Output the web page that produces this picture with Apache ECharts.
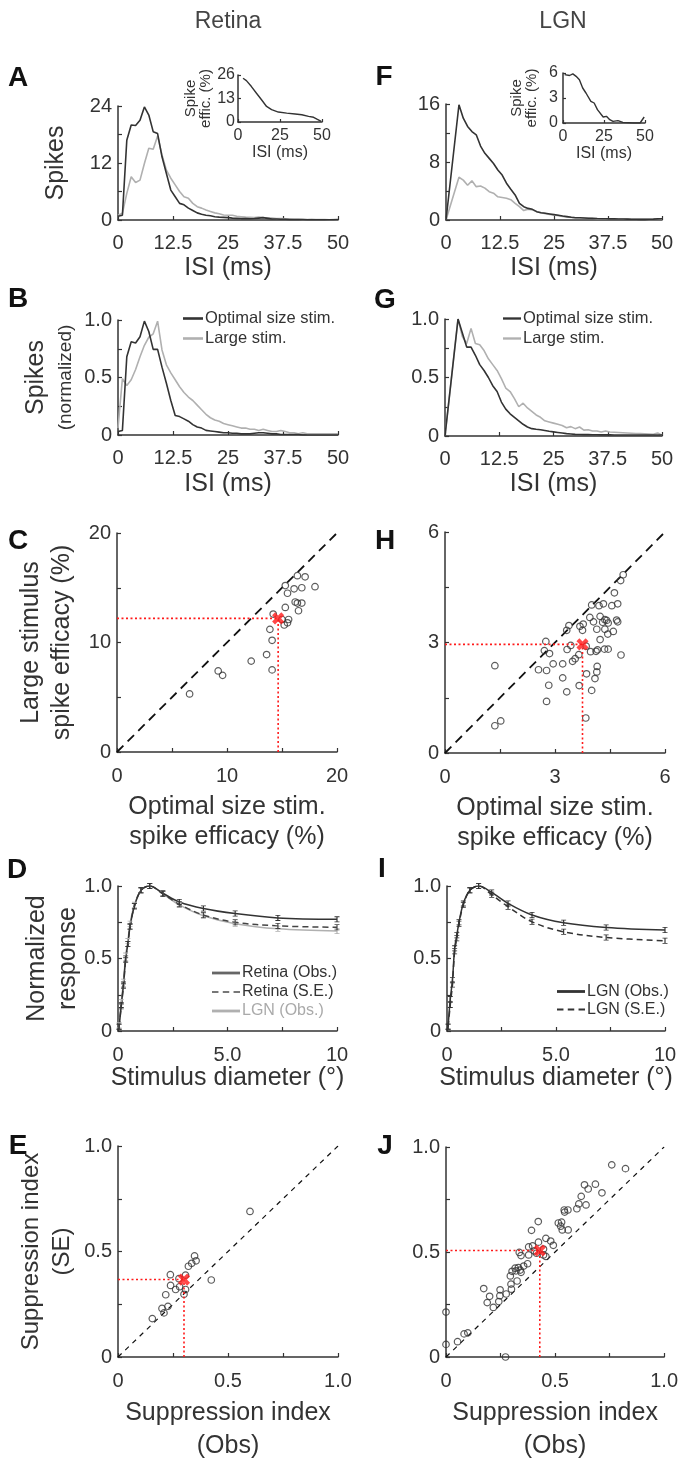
<!DOCTYPE html>
<html><head><meta charset="utf-8">
<script src="https://cdn.jsdelivr.net/npm/echarts@6/dist/echarts.min.js"></script>
<style>html,body{margin:0;padding:0;background:#fff}#c{width:681px;height:1460px}</style>
</head><body><div id="c"></div>
<script>
// ---------------- DATA ----------------
const ISI_X = [0,1,2,3,4,5,6,7,8,9,10,11,12,13,14,15,16,17,18,19,20,21,22,23,24,25,26,27,28,29,30,31,32,33,34,35,36,37,38,39,40,41,42,43,44,45,46,47,48,49,50];
const FG_X  = [0,3,4,5,6,7,8,9,10,11,12,13,14,15,16,17,18,19,20,21,22,23,24,25,26,27,28,29,30,31,32,33,34,35,36,37,38,39,40,41,42,43,44,45,46,47,48,49,50];

const A_OPT   = [0.8,1.0,16.8,20.0,19.9,21.0,23.8,22.1,18.6,18.2,13.3,9.8,6.3,4.9,3.5,3.2,2.5,2.0,1.5,1.2,1.0,0.9,0.7,0.6,0.55,0.5,0.4,0.35,0.3,0.3,0.25,0.3,0.4,0.5,0.35,0.2,0.2,0.15,0.15,0.1,0.1,0.1,0.1,0.05,0.05,0.05,0.05,0.05,0.05,0.05,0.1];
const A_LARGE = [1.0,1.4,5.6,9.1,7.9,8.4,11.9,15.1,14.9,17.7,13.7,10.5,8.8,7.4,6.0,4.9,4.6,3.5,2.8,2.5,2.1,1.8,1.5,1.3,1.05,1.0,1.0,0.8,0.7,0.6,0.56,0.5,0.6,0.5,0.45,0.4,0.3,0.3,0.25,0.2,0.15,0.15,0.1,0.1,0.15,0.1,0.1,0.1,0.05,0.1,0.05];
const A_INSET_X = [3,5,6,8,11,14,17,20,24,29,34,38,42,45,47,48,49.5];
const A_INSET_Y = [24.2,22.9,22.5,19.6,15.9,12.3,8.6,6.8,5.5,4.9,4.4,4.0,3.1,2.6,1.6,2.7,0.4];

const B_OPT   = [0.03,0.04,0.68,0.81,0.80,0.855,0.99,0.90,0.745,0.745,0.59,0.45,0.30,0.17,0.16,0.14,0.12,0.09,0.07,0.06,0.04,0.035,0.03,0.025,0.02,0.02,0.015,0.015,0.01,0.01,0.01,0.015,0.02,0.02,0.015,0.01,0.01,0.005,0.005,0.005,0.005,0.005,0,0,0,0,0,0,0,0,0];
const B_LARGE = [0.06,0.49,0.43,0.48,0.57,0.68,0.78,0.85,0.88,0.99,0.74,0.61,0.54,0.48,0.42,0.37,0.33,0.3,0.26,0.22,0.18,0.15,0.13,0.12,0.1,0.09,0.08,0.07,0.06,0.06,0.05,0.05,0.04,0.05,0.04,0.03,0.03,0.04,0.03,0.02,0.02,0.01,0.02,0.01,0.01,0.01,0.01,0.01,0.01,0.01,0.01];

const F_OPT   = [0,15.9,14.05,12.9,12.2,11.75,10.2,9.2,8.5,7.8,6.9,6.2,5.07,4.24,3.46,2.3,1.84,1.6,1.47,1.15,1.0,0.92,0.83,0.74,0.65,0.55,0.46,0.37,0.32,0.3,0.28,0.25,0.23,0.2,0.18,0.17,0.16,0.15,0.14,0.13,0.12,0.11,0.1,0.09,0.09,0.1,0.12,0.15,0.18];
const F_LARGE = [0,5.9,5.5,4.8,5.4,4.6,4.7,4.4,3.9,3.7,3.2,3.1,3.0,2.8,2.3,1.84,1.3,1.5,1.4,1.15,1.0,0.88,0.78,0.7,0.6,0.5,0.41,0.36,0.32,0.3,0.28,0.24,0.2,0.18,0.16,0.15,0.14,0.14,0.14,0.13,0.12,0.11,0.1,0.1,0.1,0.09,0.09,0.08,0.08];
const F_INSET_X = [1,4,6,8,10,12,14,17,19,21,24.5,26.5,28.5,30.5,33.5,36.5,43,47,49.5];
const F_INSET_Y = [5.8,5.7,5.9,5.6,5.2,4.2,3.6,2.6,2.4,1.6,0.72,0.8,0.4,0.2,0.28,0.08,0,0,0.72];

const G_OPT   = [0,1.0,0.88,0.76,0.76,0.69,0.61,0.56,0.5,0.43,0.38,0.29,0.23,0.19,0.16,0.13,0.1,0.077,0.063,0.058,0.054,0.047,0.04,0.035,0.03,0.025,0.02,0.017,0.014,0.013,0.012,0.012,0.011,0.011,0.01,0.01,0.01,0.009,0.009,0.009,0.008,0.008,0.008,0.008,0.008,0.008,0.008,0.008,0.008];
const G_LARGE = [0,1.0,0.85,0.79,0.92,0.79,0.78,0.73,0.66,0.61,0.56,0.49,0.41,0.38,0.32,0.25,0.28,0.24,0.21,0.18,0.16,0.13,0.12,0.11,0.1,0.09,0.07,0.08,0.063,0.077,0.05,0.054,0.043,0.043,0.034,0.043,0.034,0.032,0.03,0.028,0.026,0.024,0.022,0.02,0.018,0.016,0.014,0.026,0.006];

const C_OPT   = [6.6,9.2,9.6,12.2,13.6,14.1,14.1,13.9,14.2,15.0,15.2,15.6,15.5,15.3,15.5,15.3,16.1,16.8,16.4,17.1,18.0,16.2,16.4,16.8,16.5];
const C_LARGE = [5.3,7.4,7.0,8.3,8.9,7.5,10.2,11.2,12.6,12.1,11.6,12.1,11.8,13.2,14.5,15.2,14.9,15.0,16.1,16.0,15.1,13.7,13.6,13.6,12.9];
const C_MEAN  = [14.65, 12.2];

const H_OPT   = [1.36,1.36,1.52,2.75,2.71,2.85,2.55,2.77,2.95,3.21,2.77,2.83,3.21,3.32,3.33,3.43,3.32,3.38,3.48,3.55,3.65,3.66,3.68,3.77,3.75,3.85,3.86,3.84,3.97,4.0,3.95,4.05,4.0,4.14,4.12,4.16,4.09,4.14,4.15,4.23,4.23,4.2,4.32,4.3,4.36,4.41,4.45,4.36,4.44,4.35,4.45,4.55,4.59,4.62,4.68,4.71,4.71,4.8,4.79,4.86];
const H_LARGE = [2.37,0.74,0.87,3.03,2.78,2.70,2.26,2.24,2.42,2.42,1.40,1.84,2.04,1.66,2.81,2.92,3.33,3.46,2.49,2.56,2.67,1.83,3.44,3.50,3.33,2.90,2.15,0.95,2.75,1.70,3.68,3.56,4.02,3.36,2.76,2.80,2.02,2.20,2.35,3.08,3.71,4.0,4.05,3.55,3.62,3.60,3.53,3.36,3.23,2.82,2.82,4.0,3.30,4.35,3.61,4.05,3.56,2.66,4.68,4.84];
const H_MEAN  = [3.75, 2.95];

const DIAM      = [0.05,0.15,0.25,0.35,0.45,0.55,0.75,1.05,1.45,2.05,2.8,3.9,5.35,7.3,10];
const D_RET_OBS = [0.03,0.18,0.32,0.50,0.60,0.72,0.86,0.97,1.0,0.95,0.89,0.845,0.81,0.78,0.77];
const D_RET_SE  = [0.03,0.17,0.31,0.49,0.60,0.72,0.86,0.97,1.0,0.945,0.875,0.80,0.75,0.725,0.715];
const D_LGN_OBS = [0.04,0.20,0.34,0.52,0.62,0.74,0.87,0.97,1.0,0.945,0.87,0.795,0.74,0.705,0.69];
const I_LGN_OBS = [0.03,0.22,0.35,0.57,0.66,0.75,0.88,0.97,1.0,0.956,0.88,0.80,0.746,0.714,0.696];
const I_LGN_SE  = [0.03,0.18,0.32,0.55,0.64,0.74,0.87,0.97,1.0,0.94,0.857,0.753,0.684,0.645,0.622];

const E_OBS  = [0.60,0.424,0.348,0.355,0.335,0.32,0.238,0.307,0.277,0.239,0.262,0.28,0.307,0.30,0.217,0.227,0.2,0.209,0.156];
const E_SE   = [0.69,0.365,0.479,0.456,0.444,0.43,0.39,0.388,0.371,0.339,0.32,0.333,0.32,0.297,0.295,0.24,0.23,0.209,0.182];
const E_MEAN = [0.30, 0.367];

const J_OBS  = [0.76,0.823,0.635,0.685,0.652,0.715,0.62,0.609,0.642,0.60,0.542,0.559,0.544,0.423,0.515,0.53,0.526,0.533,0.56,0.392,0.458,0.48,0.492,0.424,0.379,0.397,0.405,0.415,0.447,0.447,0.458,0.336,0.344,0.379,0.374,0.356,0.332,0.34,0.321,0.317,0.344,0.303,0.295,0.326,0.298,0.3,0.248,0.173,0.2,0.189,0.217,0.242,0.247,0.276,0.0,0.0,0.053,0.083,0.1,0.273];
const J_SE   = [0.915,0.897,0.82,0.823,0.80,0.782,0.765,0.729,0.724,0.706,0.70,0.70,0.69,0.645,0.638,0.642,0.623,0.605,0.605,0.603,0.565,0.552,0.532,0.547,0.524,0.529,0.505,0.494,0.514,0.486,0.479,0.498,0.483,0.486,0.444,0.433,0.426,0.414,0.41,0.423,0.403,0.408,0.386,0.362,0.347,0.323,0.32,0.326,0.289,0.259,0.236,0.264,0.292,0.3,0.214,0.06,0.073,0.11,0.115,0.0];
const J_MEAN = [0.43, 0.507];

const LEGEND_LABELS = {
  B_opt:'Optimal size stim.', B_large:'Large stim.',
  G_opt:'Optimal size stim.', G_large:'Large stim.',
  D_ro:'Retina (Obs.)', D_rs:'Retina (S.E.)', D_lo:'LGN (Obs.)',
  I_lo:'LGN (Obs.)', I_ls:'LGN (S.E.)'
};

// ---------------- STYLE / HELPERS ----------------
const FONT = '"Liberation Sans", Arial, Helvetica, sans-serif';
const INK = '#333';
const GRAY = '#b0b0b0';
const RED = '#ff1a1a';

function merge(a, b) {
  const out = Array.isArray(a) ? a.slice() : Object.assign({}, a);
  for (const k in b) {
    const v = b[k];
    if (v && typeof v === 'object' && !Array.isArray(v) && typeof out[k] === 'object' && out[k] && !Array.isArray(out[k])) out[k] = merge(out[k], v);
    else out[k] = v;
  }
  return out;
}
function baseAxis(small) {
  return {
    type: 'value',
    axisLine: { show: true, onZero: false, lineStyle: { color: INK, width: 1.5 } },
    axisTick: { show: true, inside: true, length: small ? 3 : 4, lineStyle: { color: INK, width: 1.2 } },
    axisLabel: { color: INK, fontSize: small ? 16 : 20, fontFamily: FONT, margin: small ? 5 : 13 },
    splitLine: { show: false },
    nameLocation: 'middle',
    nameTextStyle: { color: INK, fontSize: small ? 16 : 25, fontFamily: FONT }
  };
}
const grids = [], xAxes = [], yAxes = [], series = [];
function panel(g, xo, yo, small) {
  const i = grids.length;
  grids.push({ left: g[0], top: g[1], width: g[2], height: g[3] });
  xAxes.push(merge(merge(baseAxis(small), { gridIndex: i }), xo));
  yAxes.push(merge(merge(baseAxis(small), { gridIndex: i }), yo));
  return i;
}
function pairs(xs, ys) { return xs.map((x, k) => [x, ys[k]]); }
function line(i, name, xs, ys, color, extra) {
  series.push(merge({
    type: 'line', name: name, xAxisIndex: i, yAxisIndex: i, data: pairs(xs, ys),
    showSymbol: false, symbol: 'none', lineStyle: { color: color, width: 1.6 }, itemStyle: { color: color },
    animation: false, silent: true, z: 3
  }, extra || {}));
}
function scatter(i, xs, ys) {
  series.push({
    type: 'scatter', xAxisIndex: i, yAxisIndex: i, data: pairs(xs, ys),
    symbol: 'circle', symbolSize: 6.5,
    itemStyle: { color: 'rgba(0,0,0,0)', borderColor: INK, borderWidth: 1.2 },
    animation: false, silent: true, z: 4
  });
}
function diagonal(i, maxv, dash, w) {
  series.push({
    type: 'line', xAxisIndex: i, yAxisIndex: i, data: [[0, 0], [maxv, maxv]],
    symbol: 'none', lineStyle: { color: '#111', width: w, type: dash }, animation: false, silent: true, z: 2
  });
}
function meanMarker(i, m) {
  series.push({
    type: 'line', xAxisIndex: i, yAxisIndex: i, data: [[0, m[1]], [m[0], m[1]]],
    symbol: 'none', lineStyle: { color: RED, width: 1.6, type: [2, 2.5] }, animation: false, silent: true, z: 5
  });
  series.push({
    type: 'line', xAxisIndex: i, yAxisIndex: i, data: [[m[0], 0], [m[0], m[1]]],
    symbol: 'none', lineStyle: { color: RED, width: 1.6, type: [2, 2.5] }, animation: false, silent: true, z: 5
  });
  series.push({
    type: 'scatter', xAxisIndex: i, yAxisIndex: i, data: [m],
    symbol: 'path://M3.4,0H6.6V3.4H10V6.6H6.6V10H3.4V6.6H0V3.4H3.4Z', symbolRotate: 45, symbolSize: 13,
    itemStyle: { color: RED }, animation: false, silent: true, z: 6
  });
}
const ERRBAR = 'path://M0,0H6V1.3H3.7V8.7H6V10H0V8.7H2.3V1.3H0Z';
function tuning(i, name, ys, color, dash) {
  line(i, name, DIAM, ys, color, {
    showSymbol: true, symbol: ERRBAR, symbolSize: [5, 6], symbolKeepAspect: false, smooth: 0.35,
    lineStyle: { width: 1.5, type: dash ? [6, 4] : 'solid' }
  });
}
const fmtHalf = v => (v === 0 ? '0' : (Math.abs(v - 0.5) < 1e-9 || Math.abs(v - 1) < 1e-9) ? v.toFixed(1) : '');
const rich2 = (fs1, fs2, lh1, lh2) => ({ a: { fontSize: fs1, lineHeight: lh1, fontFamily: FONT, color: INK }, b: { fontSize: fs2, lineHeight: lh2, fontFamily: FONT, color: INK } });

// ---------------- PANELS ----------------
const isiX = (gap) => ({ min: 0, max: 50, interval: 12.5, name: 'ISI (ms)', nameGap: gap });

// A
const pA = panel([118, 106, 220, 114], isiX(36),
  { min: 0, max: 24, interval: 6, axisLabel: { margin: 6, formatter: v => (v % 12 === 0 ? String(v) : '') }, name: 'Spikes', nameGap: 49 });
line(pA, 'A_large', ISI_X, A_LARGE, GRAY);
line(pA, 'A_opt', ISI_X, A_OPT, INK);
// A inset
const pAi = panel([238, 75, 84, 47],
  { min: 0, max: 50, interval: 25, name: 'ISI (ms)', nameGap: 20, axisLabel: { margin: 6 } },
  { min: 0, max: 26, interval: 13, axisLabel: { margin: 3 }, name: '{a|Spike}\n{a|effic. (%)}', nameGap: 21,
    nameTextStyle: { rich: rich2(15, 15, 15, 15) } }, true);
line(pAi, 'Ai', A_INSET_X, A_INSET_Y, INK, { lineStyle: { width: 1.4 } });

// F
const pF = panel([446, 104, 216, 116], isiX(36),
  { min: 0, max: 16, interval: 4, axisLabel: { margin: 6, formatter: v => (v % 8 === 0 ? String(v) : '') } });
line(pF, 'F_large', FG_X, F_LARGE, GRAY);
line(pF, 'F_opt', FG_X, F_OPT, INK);
const pFi = panel([563, 73, 82, 50],
  { min: 0, max: 50, interval: 25, name: 'ISI (ms)', nameGap: 20, axisLabel: { margin: 6 } },
  { min: 0, max: 6, interval: 3, axisLabel: { margin: 5 }, name: '{a|Spike}\n{a|effic. (%)}', nameGap: 24,
    nameTextStyle: { rich: rich2(15, 15, 15, 15) } }, true);
line(pFi, 'Fi', F_INSET_X, F_INSET_Y, INK, { lineStyle: { width: 1.4 } });

// B
const pB = panel([118, 320, 220, 115], isiX(37),
  { min: 0, max: 1, interval: 0.25, axisLabel: { margin: 6, formatter: fmtHalf },
    name: '{a|Spikes}\n{b|(normalized)}', nameGap: 41, nameTextStyle: { rich: rich2(25, 19, 38, 22) } });
line(pB, 'B_large', ISI_X, B_LARGE, GRAY);
line(pB, 'B_opt', ISI_X, B_OPT, INK);

// G
const pG = panel([445, 319, 217, 117], isiX(36),
  { min: 0, max: 1, interval: 0.25, axisLabel: { margin: 6, formatter: fmtHalf } });
line(pG, 'G_large', FG_X, G_LARGE, GRAY);
line(pG, 'G_opt', FG_X, G_OPT, INK);

// C
const scX = (max, iv, lab) => ({ min: 0, max: max, interval: iv,
  axisLabel: { margin: 14, formatter: v => (Math.abs(v % lab) < 1e-9 ? String(v) : '') },
  name: '{a|Optimal size stim.}\n{a|spike efficacy (%)}', nameGap: 40,
  nameTextStyle: { rich: rich2(25, 25, 30, 30) } });
const pC = panel([117, 533, 220, 219], scX(20, 5, 10),
  { min: 0, max: 20, interval: 5, axisLabel: { margin: 6, formatter: v => (v % 10 === 0 ? String(v) : '') },
    name: '{a|Large stimulus}\n{a|spike efficacy (%)}', nameGap: 39, nameTextStyle: { rich: rich2(25, 25, 31, 31) } });
diagonal(pC, 20, [9, 6], 1.8);
scatter(pC, C_OPT, C_LARGE);
meanMarker(pC, C_MEAN);

// H
const pH = panel([445, 532, 220, 221], scX(6, 1.5, 3),
  { min: 0, max: 6, interval: 1.5, axisLabel: { margin: 6, formatter: v => (Math.abs(v % 3) < 1e-9 ? String(v) : '') } });
diagonal(pH, 6, [9, 6], 1.8);
scatter(pH, H_OPT, H_LARGE);
meanMarker(pH, H_MEAN);

// D
const diamX = { min: 0, max: 10, interval: 2.5,
  axisLabel: { margin: 14, formatter: v => (v === 0 ? '0' : v === 5 ? '5.0' : v === 10 ? '10' : '') },
  name: 'Stimulus diameter (°)', nameGap: 32 };
const pD = panel([118, 886, 219, 145], diamX,
  { min: 0, max: 1, interval: 0.25, axisLabel: { margin: 6, formatter: fmtHalf },
    name: '{a|Normalized}\n{a|response}', nameGap: 34, nameTextStyle: { rich: rich2(25, 25, 31, 31) } });
tuning(pD, 'D_lo', D_LGN_OBS, GRAY, false);
tuning(pD, 'D_rs', D_RET_SE, '#444', true);
tuning(pD, 'D_ro', D_RET_OBS, INK, false);

// I
const pI = panel([447, 886, 218, 145], diamX,
  { min: 0, max: 1, interval: 0.25, axisLabel: { margin: 6, formatter: fmtHalf } });
tuning(pI, 'I_ls', I_LGN_SE, INK, true);
tuning(pI, 'I_lo', I_LGN_OBS, INK, false);

// E
const siX = { min: 0, max: 1, interval: 0.25, axisLabel: { margin: 14, formatter: fmtHalf },
  name: '{a|Suppression index}\n{a|(Obs)}', nameGap: 40, nameTextStyle: { rich: rich2(25, 25, 33, 33) } };
const pE = panel([118, 1146, 220, 220], siX,
  { min: 0, max: 1, interval: 0.25, axisLabel: { margin: 6, formatter: fmtHalf },
    name: '{a|Suppression index}\n{a|(SE)}', nameGap: 40, nameTextStyle: { rich: rich2(24, 24, 31, 31) } });
diagonal(pE, 1, [5, 5], 1.2);
scatter(pE, E_OBS, E_SE);
meanMarker(pE, E_MEAN);

// J
const pJ = panel([446, 1147, 220, 220], siX,
  { min: 0, max: 1, interval: 0.25, axisLabel: { margin: 6, formatter: fmtHalf } });
diagonal(pJ, 1, [5, 5], 1.2);
scatter(pJ, J_OBS, J_SE);
meanMarker(pJ, J_MEAN);

// ---------------- LEGENDS ----------------
const SOLID = 'path://M0,0H20V2H0Z';
const DASH = 'path://M0,0H6V2H0Z M10,0H16V2H10Z M20,0H26V2H20Z';
function legend(left, top, w, fs, lh, items) {
  return {
    left: left, top: top, orient: 'vertical', padding: 0, itemGap: 1, itemWidth: w, itemHeight: 10,
    selectedMode: false, symbolKeepAspect: true,
    formatter: n => LEGEND_LABELS[n],
    textStyle: { fontFamily: FONT, fontSize: fs, lineHeight: lh, color: INK, padding: [0, 0, 0, -3] },
    data: items
  };
}
const legends = [
  legend(183, 309, 20, 16.5, 19, [
    { name: 'B_opt', icon: 'path://M0,0H20V2.6H0Z', itemStyle: { color: INK } },
    { name: 'B_large', icon: 'path://M0,0H20V2.6H0Z', itemStyle: { color: GRAY } }]),
  legend(503, 309, 18, 16.5, 19, [
    { name: 'G_opt', icon: 'path://M0,0H20V2.6H0Z', itemStyle: { color: INK } },
    { name: 'G_large', icon: 'path://M0,0H20V2.6H0Z', itemStyle: { color: GRAY } }]),
  legend(212, 964, 28, 16, 18, [
    { name: 'D_ro', icon: SOLID, itemStyle: { color: '#666' } },
    { name: 'D_rs', icon: DASH, itemStyle: { color: '#777' } },
    { name: 'D_lo', icon: SOLID, itemStyle: { color: GRAY }, textStyle: { color: '#aaa' } }]),
  legend(557, 983, 28, 16, 17, [
    { name: 'I_lo', icon: SOLID, itemStyle: { color: INK } },
    { name: 'I_ls', icon: DASH, itemStyle: { color: INK } }])
];

// ---------------- TEXT GRAPHICS ----------------
function t2(x, y, s, fs, weight, color) {
  return { type: 'text', x: x, y: y, silent: true,
    style: { text: s, fontSize: fs, fontWeight: weight, fill: color, fontFamily: FONT, align: 'center', verticalAlign: 'middle' } };
}
const graphics = [
  t2(228, 22, 'Retina', 23, 'normal', '#444'),
  t2(563, 22, 'LGN', 23, 'normal', '#444'),
  t2(18, 78, 'A', 28, 'bold', '#111'),
  t2(384, 77, 'F', 28, 'bold', '#111'),
  t2(18, 299, 'B', 28, 'bold', '#111'),
  t2(385, 300, 'G', 28, 'bold', '#111'),
  t2(18, 541, 'C', 28, 'bold', '#111'),
  t2(385, 541, 'H', 28, 'bold', '#111'),
  t2(17, 870, 'D', 28, 'bold', '#111'),
  t2(382, 869, 'I', 28, 'bold', '#111'),
  t2(18, 1146, 'E', 28, 'bold', '#111'),
  t2(385, 1146, 'J', 28, 'bold', '#111')
];

const chart = echarts.init(document.getElementById('c'), null, { renderer: 'canvas' });
chart.setOption({
  backgroundColor: '#ffffff',
  animation: false,
  textStyle: { fontFamily: FONT },
  grid: grids, xAxis: xAxes, yAxis: yAxes, series: series,
  legend: legends,
  graphic: graphics
});
</script>
</body></html>
